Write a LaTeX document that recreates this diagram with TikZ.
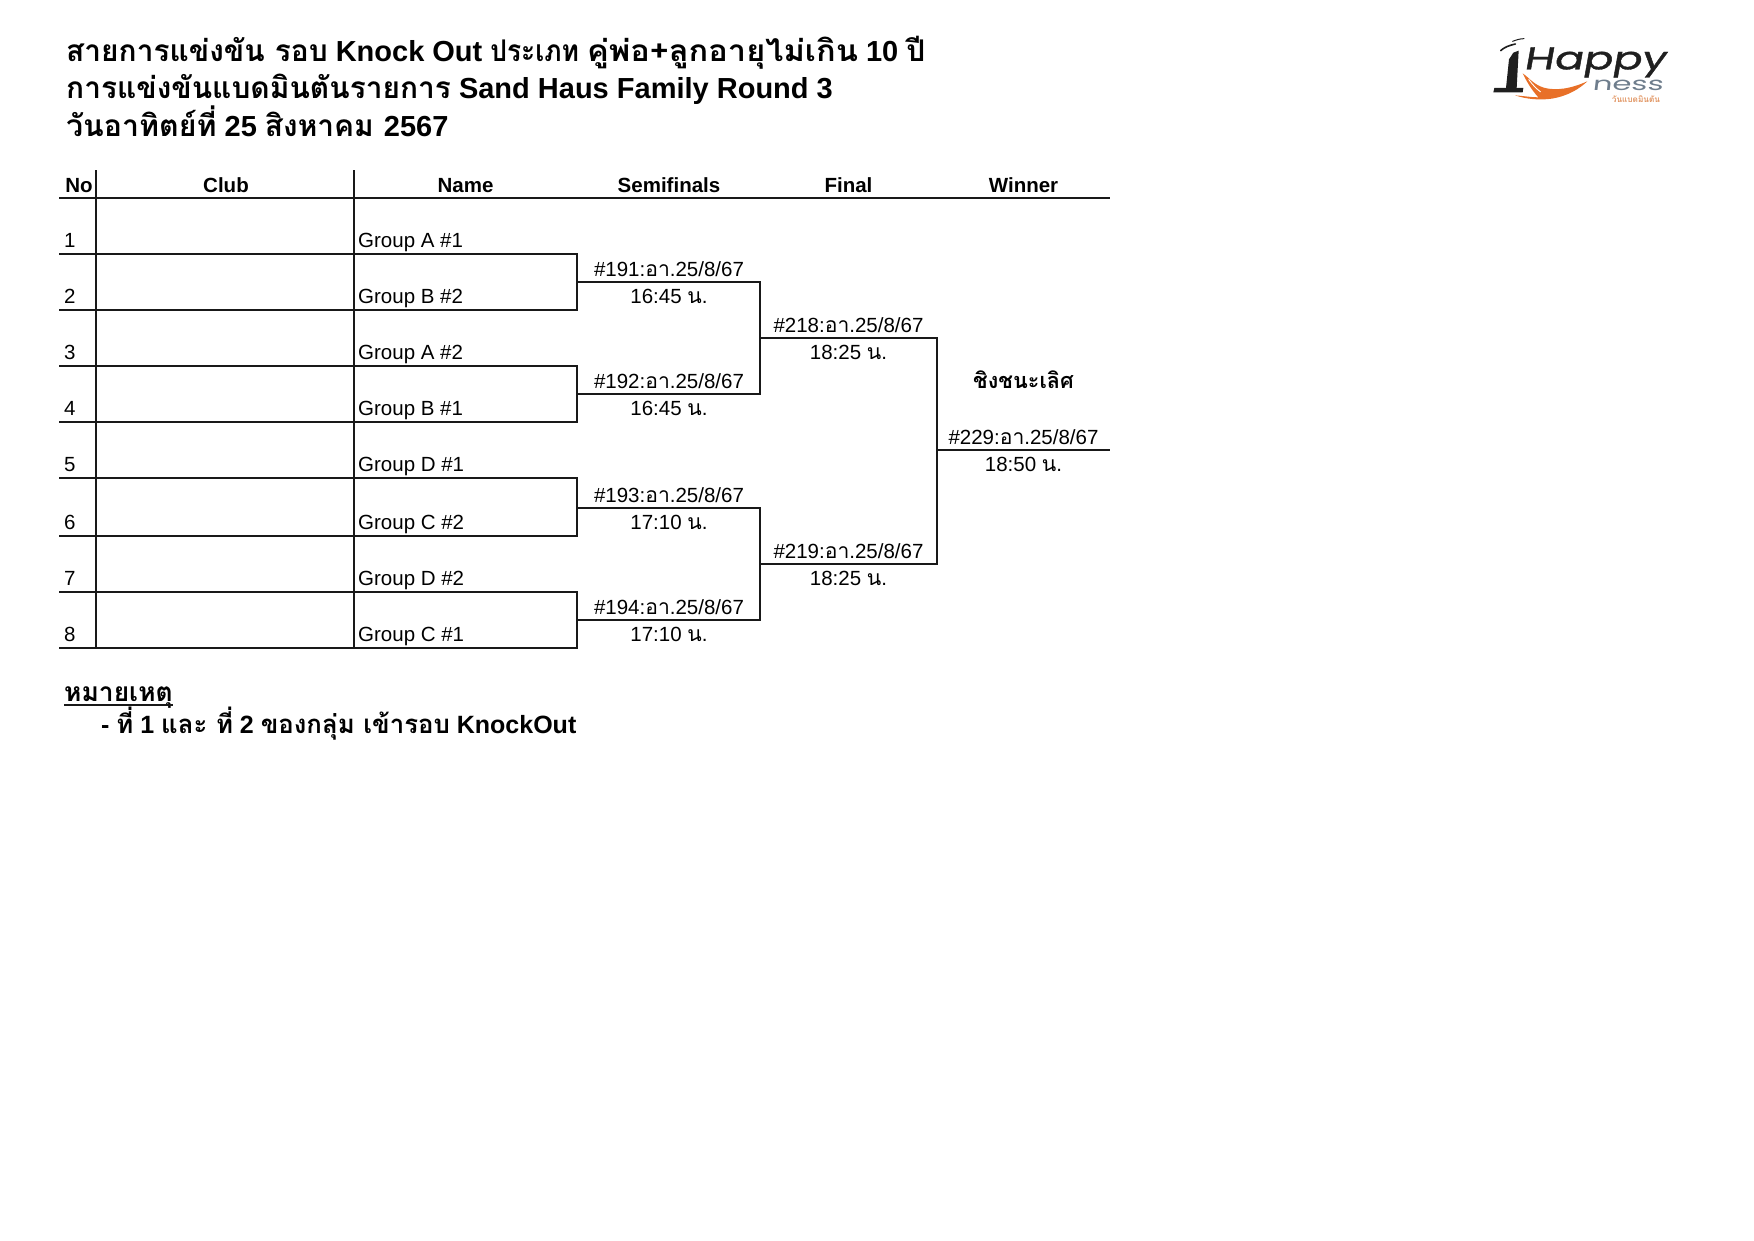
\documentclass[tikz,border=0pt]{standalone}
\usepackage{fontspec}
\usetikzlibrary{calc}
\setmainfont{Liberation Sans}
\newfontfamily\thf[Script=Thai,Scale=1.03]{Loma}
\newfontfamily\thg[Script=Thai,Scale=1.055]{Loma}
\newfontfamily\logof[FakeBold=1]{Poppins}
\newfontfamily\logon{Poppins}
\newcommand{\THT}[1]{{\thf #1}}
\newcommand{\THG}[1]{{\thg #1}}
\definecolor{logogrey}{RGB}{110,125,140}
\definecolor{logoorange}{RGB}{232,112,40}
\definecolor{logolight}{RGB}{225,150,100}
\tikzset{
  x=1pt,y=-1pt,
  rule/.style={line width=2pt,line cap=rect,color=black!90},
  titletext/.style={anchor=base west,inner sep=0pt,font=\fontsize{29}{29}\selectfont\bfseries},
  headtext/.style={anchor=base,inner sep=0pt,font=\fontsize{20.5}{20.5}\selectfont\bfseries},
  celltext/.style={anchor=base west,inner sep=0pt,font=\fontsize{20.5}{20.5}\selectfont},
  matchtext/.style={anchor=base,inner sep=0pt,font=\fontsize{20.5}{20.5}\selectfont},
  notetext/.style={anchor=base west,inner sep=0pt,font=\fontsize{25}{25}\selectfont\bfseries},
}
\begin{document}
\begin{tikzpicture}
\useasboundingbox (0,0) rectangle (1754,1240);
% titles
\node[titletext] (t1) at (66,61) {\THT{สายการแข่งขัน รอบ} Knock Out \scalebox{0.88}[1]{\THT{ประเภท}} \scalebox{1.09}[1]{\THT{คู่พ่อ+ลูกอายุไม่เกิน}} 10 \THT{ปี}};
\node[titletext] (t2) at (66,98) {\THT{การแข่งขันแบดมินตันรายการ} Sand Haus Family Round 3};
\node[titletext] (t3) at (66,136) {\scalebox{1.015}[1]{\THT{วันอาทิตย์ที่}} 25 \THT{สิงหาคม}\hspace{2pt} 2567};
% headers
\node[headtext] (hno) at (79,192) {No};
\node[headtext] (hclub) at (226,192) {Club};
\node[headtext] (hname) at (465.5,192) {Name};
\node[headtext] (hsemi) at (669,192) {Semifinals};
\node[headtext] (hfinal) at (848.5,192) {Final};
\node[headtext] (hwin) at (1023.5,192) {Winner};
% grid coordinates
\coordinate (hl) at (60,198);
\coordinate (hr) at (1109,198);
\coordinate (nt) at (96,171);
\coordinate (ct) at (354,171);
\draw[rule] (hl) -- (hr);
\foreach \n/\y/\lab in {1/254/Group A \#1,2/310/Group B \#2,3/366/Group A \#2,4/422/Group B \#1,5/478/Group D \#1,6/536/Group C \#2,7/592/Group D \#2,8/648/Group C \#1}{
  \coordinate (rl\n) at (60,\y);
  \coordinate (rr\n) at (577,\y);
  \draw[rule] (rl\n) -- (rr\n);
  \node[celltext] (no\n) at (64,\y-6.3) {\n};
  \node[celltext] (name\n) at (358,\y-6.3) {\lab};
}
\coordinate (nb) at (96,648);
\coordinate (cb) at (354,648);
\draw[rule] (nt) -- (nb);
\draw[rule] (ct) -- (cb);
% round 1 brackets
\foreach \a/\b/\mm/\y/\gx/\tm in {1/2/s1/282/191/16:45,3/4/s2/394/192/16:45,5/6/s3/508/193/17:10,7/8/s4/620/194/17:10}{
  \coordinate (\mm l) at (577,\y);
  \coordinate (\mm r) at (760,\y);
  \draw[rule] (rr\a) -- (rr\b);
  \draw[rule] (\mm l) -- (\mm r);
  \node[matchtext] (\mm d) at (669,\y-6) {\#\gx:\THT{อา}.25/8/67};
  \node[matchtext] (\mm t) at (669,\y+21) {\tm\ \THT{น}.};
}
\coordinate (f1l) at (760,338); \coordinate (f1r) at (937,338);
\coordinate (f2l) at (760,564); \coordinate (f2r) at (937,564);
\coordinate (wl) at (937,450); \coordinate (wr) at (1109,450);
\draw[rule] (s1r) -- (s2r);
\draw[rule] (s3r) -- (s4r);
\draw[rule] (f1l) -- (f1r);
\draw[rule] (f2l) -- (f2r);
\draw[rule] (f1r) -- (f2r);
\draw[rule] (wl) -- (wr);
\node[matchtext] (f1d) at (848.5,332) {\#218:\THT{อา}.25/8/67};
\node[matchtext] (f1t) at (848.5,359) {18:25 \THT{น}.};
\node[matchtext] (f2d) at (848.5,558) {\#219:\THT{อา}.25/8/67};
\node[matchtext] (f2t) at (848.5,585) {18:25 \THT{น}.};
\node[matchtext] (wd) at (1023.5,444) {\#229:\THT{อา}.25/8/67};
\node[matchtext] (wt) at (1023.5,471) {18:50 \THT{น}.};
\node[headtext] (wh) at (1023.5,388.5) {\THG{ชิงชนะเลิศ}};
% notes
\node[notetext] (n1) at (64,701) {\THG{หมายเหตุ}};
\draw[line width=2pt,color=black!90] ($(n1.base west)+(0,3.5)$) -- ($(n1.base east)+(0,3.5)$);
\node[notetext] (n2) at (101,733) {- \THT{ที่} 1 \THT{และ ที่} 2 \THT{ของกลุ่ม เข้ารอบ} KnockOut};
% logo, in the coordinates of a 3x view of its corner
\begin{scope}[shift={(1470,20)},x=0.3333pt,y=-0.3333pt]
\fill[black!88] (130,98) -- (146,92) -- (140,204) -- (160,204) -- (158,217) -- (70,217) -- (73,204) -- (108,204) -- (117,118) -- cycle;
\draw[black!88,line width=1.6pt,line cap=round] (92,92) .. controls (102,82) and (118,76) .. (136,72);
\draw[black!88,line width=1pt,line cap=round] (128,64) .. controls (138,60) and (150,56) .. (162,56);
\fill[logoorange] (158,160) .. controls (180,175) and (195,200) .. (235,206) .. controls (280,212) and (320,198) .. (352,184) .. controls (330,205) and (295,228) .. (245,236) .. controls (210,241) and (170,238) .. (135,226) .. controls (160,228) and (185,232) .. (205,232) .. controls (185,210) and (170,185) .. (158,160) -- cycle;
\draw[white,line width=0.9pt] (176,178) .. controls (188,195) and (198,205) .. (212,216);
\node[anchor=base west,inner sep=0pt,xslant=0.18,xscale=1.2,yscale=0.88,font=\fontsize{36}{36}\logof\selectfont,text=black!88] (lh) at (160,148) {Happy};
\node[anchor=base west,inner sep=0pt,xslant=0.12,xscale=1.28,yscale=0.78,font=\fontsize{24}{24}\logon\selectfont,text=logogrey] (ln) at (366,212) {ness};
\node[anchor=base west,inner sep=0pt,font=\fontsize{8}{8}\selectfont\bfseries,text=logolight] (lt) at (425,247) {\THT{วันแบดมินตัน}};
\end{scope}
\end{tikzpicture}
\end{document}
